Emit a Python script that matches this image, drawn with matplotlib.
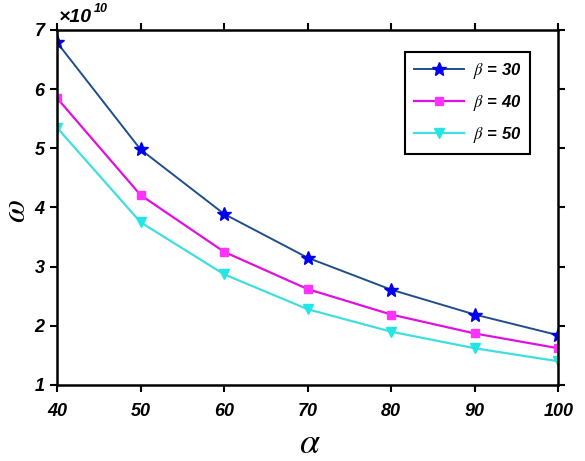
import numpy as np
import matplotlib.pyplot as plt

# data (omega in units of 1e10)
alpha = [40, 50, 60, 70, 80, 90, 100]
omega_b30 = [6.79, 4.98, 3.89, 3.15, 2.61, 2.19, 1.84]
omega_b40 = [5.85, 4.21, 3.25, 2.62, 2.19, 1.87, 1.62]
omega_b50 = [5.35, 3.75, 2.87, 2.28, 1.90, 1.62, 1.40]
labels = [r'$\beta$ = 30', r'$\beta$ = 40', r'$\beta$ = 50']

plt.rcParams['font.family'] = ['Liberation Sans', 'DejaVu Sans']
plt.rcParams['mathtext.fontset'] = 'stix'

fig = plt.figure(figsize=(5.85, 4.61), dpi=100)
ax = fig.add_axes([0.0974, 0.165, 0.857, 0.77])

ax.plot(alpha, omega_b30, color='#1f4e8c', lw=1.4, marker='*', ms=10,
        mfc='#0000ee', mec='#0000ee', label=labels[0])
ax.plot(alpha, omega_b40, color='#e010e0', lw=1.6, marker='s', ms=6,
        mfc='#ff33ff', mec='#ff33ff', label=labels[1])
ax.plot(alpha, omega_b50, color='#40dede', lw=1.6, marker='v', ms=7,
        mfc='#22e6e6', mec='#22e6e6', label=labels[2])

ax.set_xlim(40, 100)
ax.set_ylim(1, 7)
ax.set_xticks(alpha)
ax.set_yticks(range(1, 8))
ax.tick_params(direction='out', length=5, width=1.5, top=True, right=True,
               labelsize=13)
ax.tick_params(axis='x', pad=8)
ax.tick_params(axis='y', pad=4)
for lab in ax.get_xticklabels() + ax.get_yticklabels():
    lab.set_fontweight('bold')
    lab.set_fontstyle('italic')
for s in ax.spines.values():
    s.set_linewidth(1.8)

# exponent label above the y axis
ax.text(0.004, 1.012, '\u00d710', transform=ax.transAxes,
        fontsize=14, fontweight='bold', fontstyle='italic', va='bottom')
ax.text(0.074, 1.042, '10', transform=ax.transAxes,
        fontsize=9, fontweight='bold', fontstyle='italic', va='bottom')

ax.set_xlabel(r'$\alpha$', fontsize=26)
ax.xaxis.set_label_coords(0.505, -0.165)
ax.xaxis.label.set_va('center')
ax.set_ylabel(r'$\omega$', fontsize=24)
ax.yaxis.set_label_coords(-0.08, 0.49)
ax.yaxis.label.set_va('center')

leg = ax.legend(loc='upper right', bbox_to_anchor=(0.944, 0.938),
                borderaxespad=0, fancybox=False, edgecolor='black',
                framealpha=1,
                prop={'weight': 'bold', 'style': 'italic', 'size': 12},
                handlelength=3.0, labelspacing=0.72, borderpad=0.55,
                handletextpad=0.5)
leg.get_frame().set_linewidth(1.5)

fig.savefig('out.png', dpi=100)
